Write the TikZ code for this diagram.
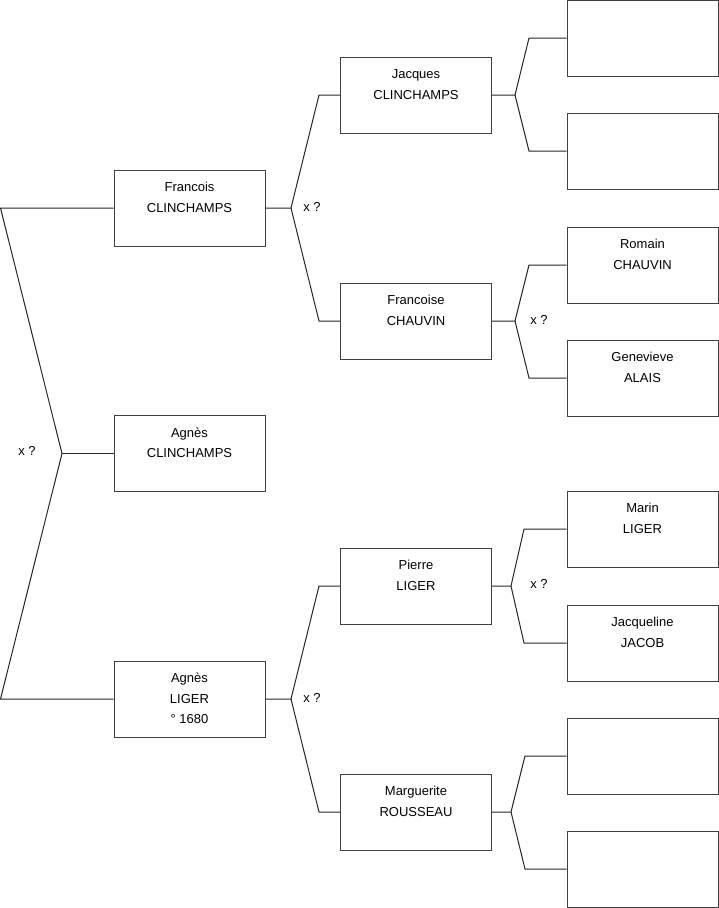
\documentclass[tikz,border=0pt]{standalone}
\usepackage{fontspec}
\setmainfont{Liberation Sans}
\newcommand{\ptline}[1]{\strut #1}
\begin{document}
\begin{tikzpicture}[x=1pt,y=-1pt,
  box/.style={draw=black!75, line width=1pt, minimum width=151pt, minimum height=76pt,
    inner sep=0pt, align=center, font=\fontsize{13}{20.5}\selectfont},
  conn/.style={draw=black!85, line width=1pt},
  xmark/.style={font=\fontsize{13}{15}\selectfont, inner sep=0pt}]
\useasboundingbox (0,0) rectangle (719,908);
% column 1
\node[box] (fc) at (189.5,208) {\ptline{Francois}\\\ptline{CLINCHAMPS}\\\strut};
\node[box] (ac) at (189.5,453.5) {\ptline{Agnès}\\\ptline{CLINCHAMPS}\\\strut};
\node[box] (al) at (189.5,699) {\ptline{Agnès}\\\ptline{LIGER}\\\ptline{° 1680}};
% column 2
\node[box] (jc) at (416,95) {\ptline{Jacques}\\\ptline{CLINCHAMPS}\\\strut};
\node[box] (fch) at (416,321) {\ptline{Francoise}\\\ptline{CHAUVIN}\\\strut};
\node[box] (pl) at (416,586) {\ptline{Pierre}\\\ptline{LIGER}\\\strut};
\node[box] (mr) at (416,812) {\ptline{Marguerite}\\\ptline{ROUSSEAU}\\\strut};
% column 3
\node[box] (r1) at (642.5,38.5) {};
\node[box] (r2) at (642.5,151) {};
\node[box] (rc) at (642.5,265) {\ptline{Romain}\\\ptline{CHAUVIN}\\\strut};
\node[box] (ga) at (642.5,378) {\ptline{Genevieve}\\\ptline{ALAIS}\\\strut};
\node[box] (ml) at (642.5,529) {\ptline{Marin}\\\ptline{LIGER}\\\strut};
\node[box] (jj) at (642.5,643) {\ptline{Jacqueline}\\\ptline{JACOB}\\\strut};
\node[box] (r7) at (642.5,756) {};
\node[box] (r8) at (642.5,869) {};
% junction coordinates
\coordinate (lt) at (0.5,208);
\coordinate (lj) at (62,453.5);
\coordinate (lb) at (0.5,699);
\coordinate (fj) at (291,208);
\coordinate (ft) at (319,95);
\coordinate (fb) at (319,321);
\coordinate (jj0) at (515,95);
\coordinate (jt) at (529,38);
\coordinate (jb) at (529,151);
\coordinate (cj) at (515,321);
\coordinate (ct) at (529,265);
\coordinate (cb) at (529,378);
\coordinate (aj) at (291,699);
\coordinate (at0) at (319,586);
\coordinate (ab) at (319,812);
\coordinate (pj) at (511,586);
\coordinate (pt) at (524,529);
\coordinate (pb) at (524,643);
\coordinate (mj) at (511,812);
\coordinate (mt) at (525,756);
\coordinate (mb) at (525,869);
% connectors
\draw[conn] (fc.west) -- (lt) -- (lj) -- (lb) -- (al.west);
\draw[conn] (lj) -- (ac.west);
\draw[conn] (fc.east) -- (fj) -- (ft) -- (jc.west);
\draw[conn] (fj) -- (fb) -- (fch.west);
\draw[conn] (jc.east) -- (jj0) -- (jt) -- (r1.west |- jt);
\draw[conn] (jj0) -- (jb) -- (r2.west |- jb);
\draw[conn] (fch.east) -- (cj) -- (ct) -- (rc.west);
\draw[conn] (cj) -- (cb) -- (ga.west);
\draw[conn] (al.east) -- (aj) -- (at0) -- (pl.west);
\draw[conn] (aj) -- (ab) -- (mr.west);
\draw[conn] (pl.east) -- (pj) -- (pt) -- (ml.west);
\draw[conn] (pj) -- (pb) -- (jj.west);
\draw[conn] (mr.east) -- (mj) -- (mt) -- (r7.west);
\draw[conn] (mj) -- (mb) -- (r8.west);
% marriage marks
\node[xmark] (x1) at (27,451) {x ?};
\node[xmark] (x2) at (312,207) {x ?};
\node[xmark] (x3) at (539,320) {x ?};
\node[xmark] (x4) at (539,584) {x ?};
\node[xmark] (x5) at (312,698) {x ?};
\end{tikzpicture}
\end{document}
